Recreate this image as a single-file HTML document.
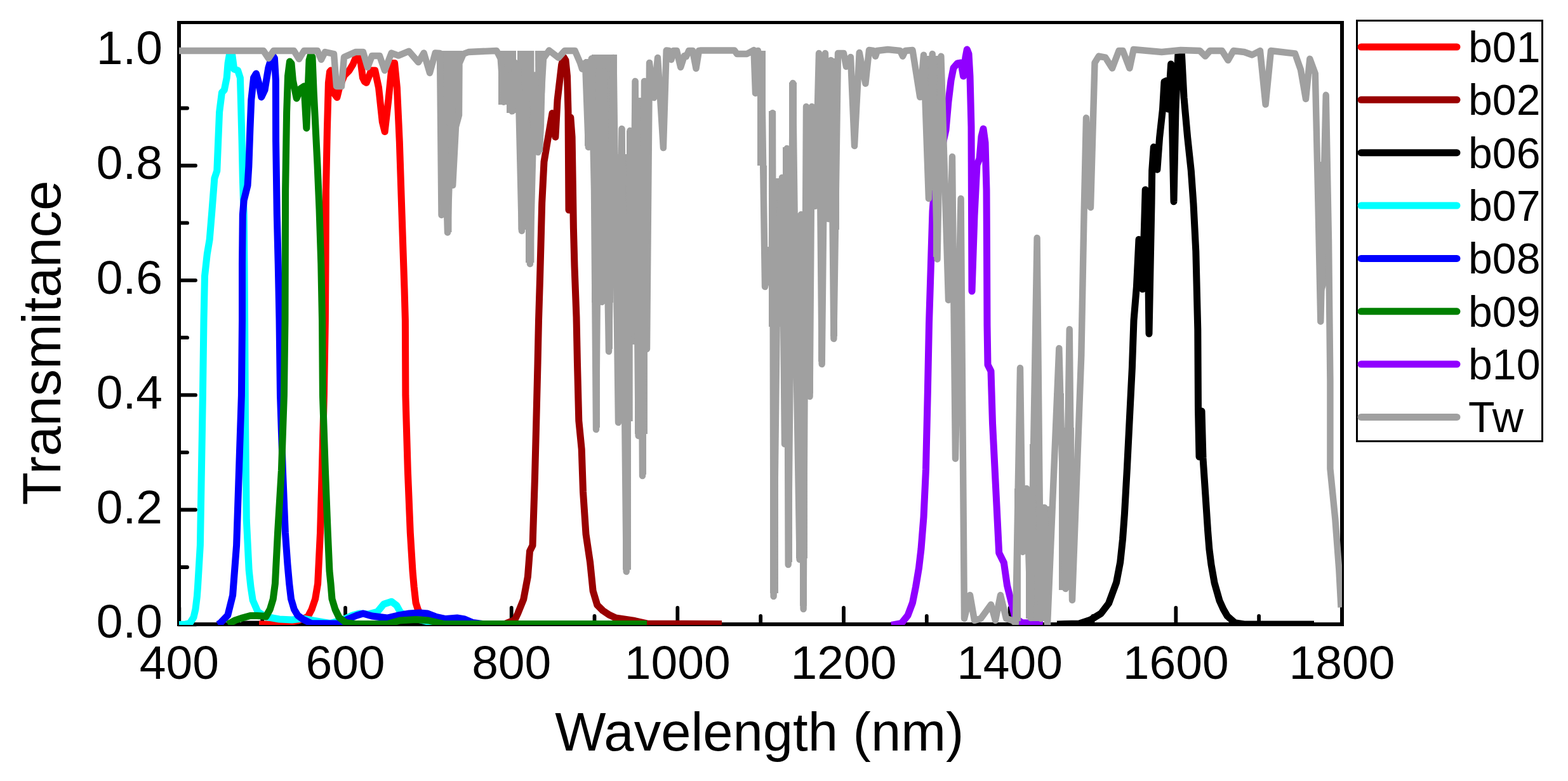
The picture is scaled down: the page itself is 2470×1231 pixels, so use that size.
<!DOCTYPE html>
<html><head><meta charset="utf-8"><title>Transmitance</title>
<style>html,body{margin:0;padding:0;background:#fff;width:2470px;height:1231px;overflow:hidden}svg{display:block}</style>
</head><body>
<svg width="2470" height="1231" viewBox="0 0 2470 1231">
<rect width="2470" height="1231" fill="#fff"/>
<g stroke="#000" stroke-width="5.8" stroke-linecap="round"><line x1="282.3" y1="958" x2="282.3" y2="984"/><line x1="413.2" y1="971" x2="413.2" y2="984"/><line x1="544.0" y1="958" x2="544.0" y2="984"/><line x1="674.8" y1="971" x2="674.8" y2="984"/><line x1="805.7" y1="958" x2="805.7" y2="984"/><line x1="936.5" y1="971" x2="936.5" y2="984"/><line x1="1067.3" y1="958" x2="1067.3" y2="984"/><line x1="1198.2" y1="971" x2="1198.2" y2="984"/><line x1="1329.0" y1="958" x2="1329.0" y2="984"/><line x1="1459.8" y1="971" x2="1459.8" y2="984"/><line x1="1590.6" y1="958" x2="1590.6" y2="984"/><line x1="1721.5" y1="971" x2="1721.5" y2="984"/><line x1="1852.3" y1="958" x2="1852.3" y2="984"/><line x1="1983.1" y1="971" x2="1983.1" y2="984"/><line x1="2114.0" y1="958" x2="2114.0" y2="984"/><line x1="282" y1="984.4" x2="308" y2="984.4"/><line x1="282" y1="894.0" x2="295" y2="894.0"/><line x1="282" y1="803.5" x2="308" y2="803.5"/><line x1="282" y1="713.1" x2="295" y2="713.1"/><line x1="282" y1="622.7" x2="308" y2="622.7"/><line x1="282" y1="532.2" x2="295" y2="532.2"/><line x1="282" y1="441.8" x2="308" y2="441.8"/><line x1="282" y1="351.4" x2="295" y2="351.4"/><line x1="282" y1="261.0" x2="308" y2="261.0"/><line x1="282" y1="170.5" x2="295" y2="170.5"/><line x1="282" y1="80.1" x2="308" y2="80.1"/></g>
<g fill="#000"><rect x="279" y="33" width="6" height="954"/><rect x="2111" y="33" width="6" height="954"/><rect x="279" y="33" width="1838" height="5"/><rect x="279" y="981" width="1838" height="6"/></g>
<defs><clipPath id="pc"><rect x="282" y="35" width="1832" height="950"/></clipPath></defs>
<g clip-path="url(#pc)">
<polyline points="380,984 410,984" fill="none" stroke="#000000" stroke-width="11" stroke-linejoin="round" stroke-linecap="butt"/>
<polyline points="1665,984 1677.4,983.5 1700,983 1718,977 1734.3,967 1746.5,951 1752.5,934.6 1758.6,918 1764.7,886 1768.5,850 1771.4,810.4 1775.4,738.8 1779.4,659 1783.4,579.6 1786,505 1790.4,452 1794,377.4 1799.7,455.8 1804.2,299 1807.2,302.7 1810,526 1814,321.4 1814.7,269 1817.3,231.8 1822.9,267.2 1826.6,216.8 1831.5,172 1834,129 1837.8,127.2 1840,172 1844.6,101 1849,317.7 1852,172 1855.8,86 1861.4,84.3 1865,153.4 1870.7,216.8 1876.3,269 1880,321.4 1883.8,396 1886.8,519.7 1887.5,645 1889,720 1893,648 1895,722 1898.8,778.6 1902.7,838 1904.9,865.6 1908,890 1913,918.4 1921,946.8 1927,960 1933.3,971 1945.5,981.8 1960,984 2070,984" fill="none" stroke="#000000" stroke-width="11" stroke-linejoin="round" stroke-linecap="butt"/>
<polyline points="408,984 440,984 470,978 485,972 491,960.5 496.6,944 500.6,920 504.5,840 507.3,741 510.4,623 512.4,505 513,416 513.5,300.2 515.4,203.7 517.4,130.3 519.5,113 521.2,111 524,140 525.1,145.8 530.9,153.5 534.7,138 542.4,118.8 550.2,111 556,101.4 561.7,87.9 567.5,91.8 571.4,122.6 574.3,128.5 577.2,130.3 584.9,111 590.7,111 596.5,138 602.3,192.1 606.1,207.5 611.9,157.4 617.7,99.5 621.6,99.5 625.4,138 629.3,223 633.1,338.8 637,454.6 638.4,505 638.9,623.2 642.3,741.3 646.3,839.8 650,900 652.2,925 655,950 658.1,960 664,973.7 673.9,977.6 690,982.5 720,984" fill="none" stroke="#ff0000" stroke-width="11" stroke-linejoin="round" stroke-linecap="butt"/>
<polyline points="795,983.5 811,977 815.7,967 824.7,944.7 831.4,909 834.5,868.8 839,859.8 842.5,752.6 844.8,663.3 847,574 848.5,505 850.5,440 852,385 853.7,320 857,255 861.9,225.7 870,178.6 874.9,216 878.1,157.5 884.6,102.3 888,90 891,95 893.5,120 895,175 896,331 898.8,185 901.1,216 902.2,284.5 903.4,360 905,420 908,500 909.5,574 911.8,663.3 916.2,708 918.5,775 923,842 929.6,886.6 934.1,931.3 940.8,953.6 949.7,962.5 960,969.3 970,974 1000,978.5 1020,983 1137,983.5" fill="none" stroke="#990000" stroke-width="11" stroke-linejoin="round" stroke-linecap="butt"/>
<polyline points="282,984.5 292,984 299,982.5 305,973 308,960 310.4,940 311.5,925 315.4,859.5 317.4,741.3 319.4,623 321,505 322.5,435.2 326.3,400.5 330.2,377.4 334,331 337.9,280.9 341.8,269.3 343.7,223 345.6,176.7 349.5,145.8 353.3,141.9 357.2,122.6 359.1,99.5 361.8,84 365.7,86 368.8,109 374.6,111 378.4,122.6 379.6,165 381.1,223 382.3,280.9 384.2,338.8 385,420 385.6,505 386.5,662.5 388.3,820 392.2,898.9 395,925 398.2,946.1 406,964 418,972 440,976 460,977 477,975 493,978 520,982.5 540,977 555,970 566,967 580,968 594.4,964.4 604.5,952.3 616.7,948.2 624.8,954.3 630.9,965.4 637,968.5 654,975 680,981.5 720,983.5" fill="none" stroke="#00ffff" stroke-width="11" stroke-linejoin="round" stroke-linecap="butt"/>
<polyline points="343,984.1 347,982.1 358.8,969.7 366.6,938.2 372.6,859.5 376.5,741.3 380.4,623.2 381.5,505 381.5,416 382.3,338.8 384.2,315.6 390,292.4 391.9,261.6 393.9,203.7 395.8,157.4 399.6,122.6 403.5,116 407.4,130 411.8,153 417,142 422.8,107.2 426.5,95 430,88 432.4,91.8 434.4,126.5 434.6,223 436.3,338.8 438.2,416 440,505 441.5,623.2 445.4,741.3 449.4,839.8 453,890 455.7,920 458.5,944 463.4,960.5 469,970 477,976 490,982.5 534,983 550,975 562,970 572,967 586,971 610,974 627,970 645,967 661,966 673,967 686,972 702,975.5 720,974 732,976 745,981.5 760,983.5" fill="none" stroke="#0000ff" stroke-width="11" stroke-linejoin="round" stroke-linecap="butt"/>
<polyline points="358.8,984.1 370.6,977.6 382.4,973.7 394.2,970.5 405,970.5 413.9,971 418.9,972 425.3,960.5 430.2,944.3 433.4,920 437.5,839.8 443.4,741.3 447.4,623.2 449,505 449.6,300 451.6,177 453.5,120 456.4,97 459,100 461.4,126.5 467.2,155 473,140 479,136 482.8,202 485,145 487,95 489.6,86 492,90 494.2,145 497,200 500,260 503,330 505.8,416 507.5,505 508.4,623.2 512.4,741.3 516.3,839.8 519,900 521,920 523,944 528,960.5 534,973 545,981.5 560,983.5 610,983.5 630,978 655,976.5 675,978 700,983.5 1019,983.5" fill="none" stroke="#008000" stroke-width="11" stroke-linejoin="round" stroke-linecap="butt"/>
<polyline points="1404,985.5 1420,982.5 1430,970 1437.5,950 1442.5,925 1447.5,895 1451,865 1455,815 1458.5,740 1461.3,619 1463.5,510 1466,430 1469,333 1473,280 1480,250 1490,205 1494,160 1498,127 1502,107 1508,100 1514,99 1517.5,120 1521,90 1523.3,78 1526,85 1528,120 1530,200 1531,459 1535,340 1539,260 1543,250 1546,215 1549,203 1552,225 1554,300 1554.5,391 1555,513 1556,575 1561,585 1563.5,667 1568.6,769 1573.7,871.5 1581.4,887 1586.5,922.7 1594,953 1599.3,974 1609.5,981.5 1642.8,982.5" fill="none" stroke="#9000ff" stroke-width="11" stroke-linejoin="round" stroke-linecap="butt"/>
<g fill="#a0a0a0"><rect x="690" y="80" width="38" height="101"/><rect x="691" y="181" width="27" height="20"/><rect x="691" y="201" width="25.5" height="91"/><rect x="692.6" y="292" width="18.9" height="50"/><rect x="700" y="342" width="11.5" height="24"/><rect x="785" y="80" width="28" height="85"/><rect x="798" y="165" width="15" height="13"/><rect x="815" y="80" width="26.4" height="139"/><rect x="816.5" y="219" width="11.5" height="143"/><rect x="828" y="219" width="13.4" height="195"/><rect x="921" y="93" width="11" height="137"/><rect x="932" y="86" width="40" height="157"/><rect x="932" y="243" width="34" height="234"/><rect x="935" y="477" width="10" height="197"/><rect x="954" y="477" width="11" height="73"/><rect x="968" y="243" width="53.7" height="300"/><rect x="976" y="202" width="8.4" height="41"/><rect x="987" y="206" width="34.7" height="37"/><rect x="995.7" y="127" width="9.8" height="79"/><rect x="1005.5" y="154" width="6.5" height="52"/><rect x="1012" y="127" width="7" height="79"/><rect x="1019" y="96.5" width="9" height="59.5"/><rect x="1019" y="156" width="7.6" height="82"/><rect x="970" y="543" width="26.7" height="121"/><rect x="981" y="664" width="13" height="234"/><rect x="1000" y="543" width="20" height="141"/><rect x="1007" y="684" width="11" height="64"/><rect x="1186" y="80" width="20" height="67"/><rect x="1193" y="147" width="13" height="114"/><rect x="1200" y="261" width="8" height="189"/><rect x="1208" y="389" width="4" height="61"/><rect x="1211" y="175" width="11" height="340"/><rect x="1222" y="281" width="11" height="234"/><rect x="1233" y="232" width="10" height="283"/><rect x="1243" y="130" width="12" height="385"/><rect x="1255" y="336" width="10" height="179"/><rect x="1265" y="167" width="16" height="348"/><rect x="1273" y="515" width="7" height="107"/><rect x="1281" y="167" width="5" height="161"/><rect x="1286" y="83" width="16" height="245"/><rect x="1289" y="328" width="13" height="19"/><rect x="1302" y="92" width="7" height="255"/><rect x="1309" y="92" width="13" height="270"/><rect x="1213" y="515" width="13" height="420"/><rect x="1237" y="515" width="11" height="371"/><rect x="1254" y="515" width="18" height="365"/><rect x="1260" y="880" width="11" height="75"/><rect x="1270" y="515" width="11" height="105"/><rect x="1289" y="347" width="11" height="223"/><rect x="1308" y="362" width="11" height="168"/><rect x="1456" y="88" width="30" height="152"/><rect x="1458" y="240" width="9" height="70"/><rect x="1467" y="240" width="19" height="60"/><rect x="1470" y="300" width="11" height="105"/><rect x="1486" y="240" width="4" height="60"/><rect x="1598" y="770" width="10" height="209"/><rect x="1608" y="770" width="8" height="96"/><rect x="1616" y="770" width="6" height="205"/><rect x="1622" y="700" width="20" height="279"/><rect x="1637" y="798" width="16" height="181"/><rect x="1668" y="674" width="24" height="256"/><rect x="1660" y="620" width="16" height="80"/><polygon points="843,80 860,80 857,200 855,240 844,240"/><polygon points="2071,255 2092,255 2096,430 2082,470 2075,430"/></g>
<polyline points="282,80 415,80 423,92 431,80 463,80 471,93 479,80 500,80 506,94 512,82 526,85 530,136 538,136 542,90 560,82 572,82 579,106 586,88 598,88 606,111 616.6,83.5 627.6,87.6 644,80.7 659,98 667.7,83.5 677,115 685.6,83.5 693,84 695.5,339 700,200 705,366.5 709,250 713.2,292 718,200 723,181.5 723.5,100 730,85 738,82 782.3,80 788.7,92.5 793.6,160.7 798.5,157.5 801,120 806.6,175.4 811.5,99 816,110 821.9,364 828.4,141 834.9,416 842.4,118.5 847.5,240 856,92 865,79.5 879.7,90.9 889.5,80 905.7,80 913.9,99 917,108.7 922,99 926.9,232 931.7,92.5 936,300 939,677 944,110 948,476 952,112 959,554 966.5,91 974,666 979.5,203 986.7,901 992.5,206 997,500 1000.6,128 1005.7,687 1009,250 1012,750 1015,128 1019,550 1023,99 1030,154 1036,91 1040,154 1044.9,233 1049.7,79.5 1054,80 1057.5,94 1061,80 1066,80 1072.2,106 1078,88 1081,89 1085,80 1091,80 1096.5,108 1101,80 1104.3,79.5 1157,79.5 1160.9,85 1176.5,85 1187.5,79 1190,147 1194,80 1200,116 1205,452 1216,395 1217,178 1218.6,940 1225,400 1232,280 1236,700 1239.7,234 1241.7,890 1249,131 1255,600 1259.6,882 1262,338 1265.6,960 1270,168 1275.6,625 1279,168 1284,325 1290,84 1294.7,574 1300,84 1305,345 1309,95 1313.4,534 1320,84 1329,84 1333,105 1340,90 1346,230 1353.7,83 1363.4,131.7 1369,79 1376,80 1379,88.7 1382,80 1398.5,78 1418,80 1422,88.7 1426,80 1437.5,79 1449.2,153 1455,86.8 1462.9,313 1468.7,84.9 1476.5,408.6 1482.4,88.7 1494,473 1500,247 1505,723 1513.6,313 1519,975 1528,938 1535,978 1545,975 1561,953 1568,978 1576,938 1585,975 1595,978 1600,982.5 1607,580 1611,870 1617,770 1623.5,974 1633.6,375 1639.6,975 1645.3,800 1650,984.5 1668.3,549 1678.5,928 1684.7,519 1689,946 1703.3,560 1707.6,335.6 1711,185.7 1718,327 1724.5,99 1730.8,88.6 1741.4,90.7 1752,107.6 1762.5,80 1768.8,80 1779.4,107.6 1785.7,78 1830,82 1860,79 1890,80 1898.6,88.6 1906,80 1925,80 1934.5,95 1943,80 1960,82 1972.5,86.5 1985,80 1993.6,164.6 2002,80 2040,84.4 2049,110 2057,156 2063.3,92.8 2071.8,116 2076,300 2080.3,506.8 2088.7,149.8 2093,378 2095.4,600 2095.4,738.7 2103.3,818 2109.3,897.8 2112.5,957.4" fill="none" stroke="#a0a0a0" stroke-width="10.4" stroke-linejoin="round" stroke-linecap="butt"/>
</g>
<g font-family="'Liberation Sans', Arial, sans-serif" font-size="75" fill="#000"><text x="282.3" y="1069.5" text-anchor="middle">400</text><text x="544.0" y="1069.5" text-anchor="middle">600</text><text x="805.7" y="1069.5" text-anchor="middle">800</text><text x="1067.3" y="1069.5" text-anchor="middle">1000</text><text x="1329.0" y="1069.5" text-anchor="middle">1200</text><text x="1590.6" y="1069.5" text-anchor="middle">1400</text><text x="1852.3" y="1069.5" text-anchor="middle">1600</text><text x="2114.0" y="1069.5" text-anchor="middle">1800</text><text x="256" y="1005.4" text-anchor="end">0.0</text><text x="256" y="824.5" text-anchor="end">0.2</text><text x="256" y="643.7" text-anchor="end">0.4</text><text x="256" y="462.8" text-anchor="end">0.6</text><text x="256" y="282.0" text-anchor="end">0.8</text><text x="256" y="101.1" text-anchor="end">1.0</text></g>
<text font-family="'Liberation Sans', Arial, sans-serif" font-size="85" x="1196.3" y="1183" text-anchor="middle">Wavelength (nm)</text>
<text font-family="'Liberation Sans', Arial, sans-serif" font-size="85" transform="translate(95,540.3) rotate(-90)" text-anchor="middle">Transmitance</text>
<rect x="2137.5" y="32.5" width="292" height="663" fill="none" stroke="#000" stroke-width="3"/>
<line x1="2144" y1="74.0" x2="2295" y2="74.0" stroke="#ff0000" stroke-width="11" stroke-linecap="round"/>
<text font-family="'Liberation Sans', Arial, sans-serif" font-size="68" x="2313" y="98.0">b01</text>
<line x1="2144" y1="157.3" x2="2295" y2="157.3" stroke="#990000" stroke-width="11" stroke-linecap="round"/>
<text font-family="'Liberation Sans', Arial, sans-serif" font-size="68" x="2313" y="181.3">b02</text>
<line x1="2144" y1="240.7" x2="2295" y2="240.7" stroke="#000000" stroke-width="11" stroke-linecap="round"/>
<text font-family="'Liberation Sans', Arial, sans-serif" font-size="68" x="2313" y="264.7">b06</text>
<line x1="2144" y1="324.0" x2="2295" y2="324.0" stroke="#00ffff" stroke-width="11" stroke-linecap="round"/>
<text font-family="'Liberation Sans', Arial, sans-serif" font-size="68" x="2313" y="348.0">b07</text>
<line x1="2144" y1="407.4" x2="2295" y2="407.4" stroke="#0000ff" stroke-width="11" stroke-linecap="round"/>
<text font-family="'Liberation Sans', Arial, sans-serif" font-size="68" x="2313" y="431.4">b08</text>
<line x1="2144" y1="490.8" x2="2295" y2="490.8" stroke="#008000" stroke-width="11" stroke-linecap="round"/>
<text font-family="'Liberation Sans', Arial, sans-serif" font-size="68" x="2313" y="514.8">b09</text>
<line x1="2144" y1="574.1" x2="2295" y2="574.1" stroke="#9000ff" stroke-width="11" stroke-linecap="round"/>
<text font-family="'Liberation Sans', Arial, sans-serif" font-size="68" x="2313" y="598.1">b10</text>
<line x1="2144" y1="657.4" x2="2295" y2="657.4" stroke="#a0a0a0" stroke-width="11" stroke-linecap="round"/>
<text font-family="'Liberation Sans', Arial, sans-serif" font-size="68" x="2313" y="681.4">Tw</text>
</svg>
</body></html>
